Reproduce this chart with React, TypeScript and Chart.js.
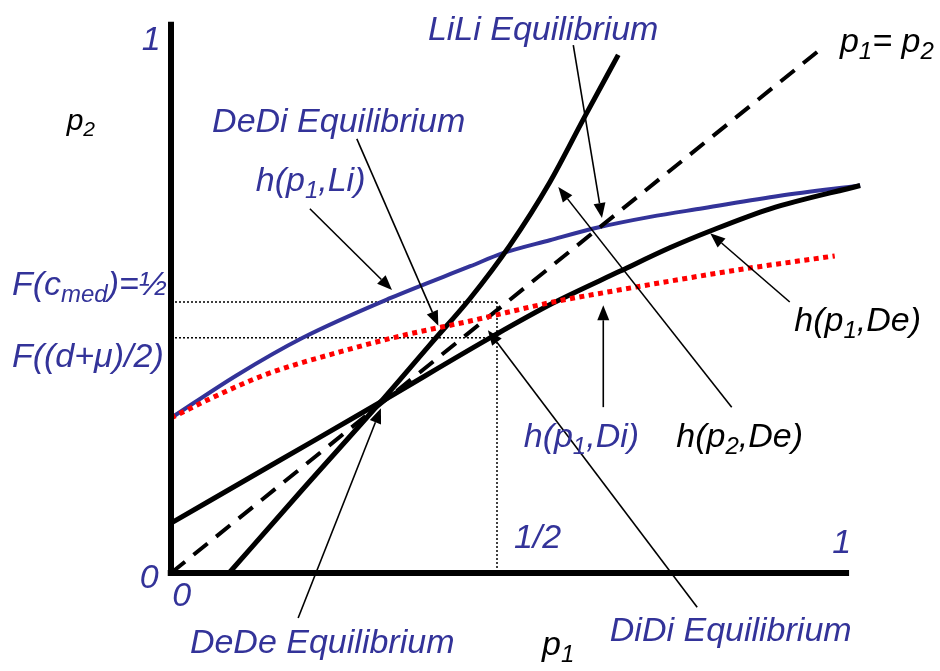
import React, { useEffect, useRef } from "react";
import { Chart, registerables } from "chart.js";

Chart.register(...registerables);

// ---------- data ----------
// axis extents
const xAxisEnd = 1.04;
const yAxisTop = 1.017;

// reference lines: F(c_med)=1/2 and F((d+mu)/2), p1 = 1/2
const halfLevel = 0.5;
const midLevel = 0.434;
const halfP1 = 0.5;

// p1 = p2 diagonal
const diagX = [0, 1.0];
const diagY = [0, 0.97];

// h(p1, Li)  (blue)
const hLiX = [0, 0.101, 0.202, 0.336, 0.459, 0.509, 0.581, 0.653, 0.735, 0.816, 0.934, 1.057];
const hLiY = [0.286, 0.365, 0.434, 0.507, 0.566, 0.59, 0.614, 0.637, 0.657, 0.673, 0.696, 0.715];

// h(p1, Di)  (red dotted)
const hDiX = [0, 0.075, 0.147, 0.259, 0.351, 0.459, 0.586, 0.663, 0.868, 1.018];
const hDiY = [0.286, 0.33, 0.367, 0.408, 0.437, 0.465, 0.5, 0.517, 0.559, 0.585];

// h(p1, De)  (black)
const hDe1X = [0, 0.167, 0.321, 0.494, 0.586, 0.689, 0.765, 0.827, 0.919, 1.057];
const hDe1Y = [0.092, 0.208, 0.315, 0.437, 0.498, 0.557, 0.6, 0.631, 0.672, 0.715];

// h(p2, De)  (black, steep)
const hDe2X = [0.089, 0.198, 0.321, 0.397, 0.459, 0.52, 0.581, 0.635, 0.686];
const hDe2Y = [0, 0.149, 0.315, 0.421, 0.507, 0.605, 0.721, 0.843, 0.956];

// annotation arrows: tail -> head
const arrowTailX = [0.213, 0.285, 0.617, 0.86, 0.949, 0.663, 0.807, 0.195];
const arrowTailY = [0.672, 0.801, 0.974, 0.306, 0.5, 0.306, -0.063, -0.083];
const arrowHeadX = [0.339, 0.41, 0.661, 0.594, 0.827, 0.663, 0.486, 0.322];
const arrowHeadY = [0.522, 0.456, 0.655, 0.712, 0.627, 0.494, 0.448, 0.304];

// text labels ( _{..} = subscript )
const labelTexts = [
  "1", "p_{2}", "LiLi Equilibrium", "DeDi Equilibrium", "h(p_{1},Li)",
  "F(c_{med})=½", "F((d+μ)/2)", "0", "0", "DeDe Equilibrium", "p_{1}",
  "DiDi Equilibrium", "1/2", "1", "h(p_{1},Di)", "h(p_{2},De)", "h(p_{1},De)", "p_{1}= p_{2}",
];
const labelX = [-0.045, -0.16, 0.394, 0.063, 0.13, -0.244, -0.244, -0.048, 0.002, 0.029, 0.569, 0.673, 0.526, 1.014, 0.541, 0.775, 0.956, 1.026];
const labelY = [0.965, 0.817, 0.983, 0.814, 0.705, 0.513, 0.38, -0.028, -0.061, -0.148, -0.151, -0.125, 0.046, 0.037, 0.232, 0.232, 0.446, 0.961];
const labelBlue = [true, false, true, true, true, true, true, true, true, true, false, true, true, true, true, false, false, false];
const labelSmall = [false, true, false, false, false, false, false, false, false, false, false, false, false, false, false, false, false, false];

// ---------- style ----------
const FONT = '"Liberation Sans", Arial, Helvetica, sans-serif';
const BLUE = "#333399";
const RED = "#ff0000";
const BLACK = "#000000";

const zip = (xs: number[], ys: number[]) => xs.map((x, i) => ({ x, y: ys[i] }));

function drawRich(ctx: CanvasRenderingContext2D, text: string, x: number, y: number, size: number, color: string) {
  const parts = text.split(/(_\{[^}]*\})/).filter((p) => p.length > 0);
  let cx = x;
  ctx.fillStyle = color;
  ctx.textBaseline = "alphabetic";
  ctx.textAlign = "left";
  for (const p of parts) {
    const sub = p.startsWith("_{");
    const t = sub ? p.slice(2, -1) : p;
    const fs = sub ? Math.round(size * 0.7) : size;
    ctx.font = `italic ${fs}px ${FONT}`;
    ctx.fillText(t, cx, sub ? y + size * 0.2 : y);
    cx += ctx.measureText(t).width;
  }
}

const annotationPlugin = {
  id: "annotations",
  afterDatasetsDraw(chart: any) {
    const ctx: CanvasRenderingContext2D = chart.ctx;
    const sx = chart.scales.x;
    const sy = chart.scales.y;
    ctx.save();
    // arrows
    ctx.strokeStyle = BLACK;
    ctx.fillStyle = BLACK;
    ctx.lineWidth = 1.6;
    for (let i = 0; i < arrowTailX.length; i++) {
      const x1 = sx.getPixelForValue(arrowTailX[i]);
      const y1 = sy.getPixelForValue(arrowTailY[i]);
      const x2 = sx.getPixelForValue(arrowHeadX[i]);
      const y2 = sy.getPixelForValue(arrowHeadY[i]);
      const ang = Math.atan2(y2 - y1, x2 - x1);
      const hl = 15;
      const hw = 6;
      const bx = x2 - hl * Math.cos(ang);
      const by = y2 - hl * Math.sin(ang);
      ctx.beginPath();
      ctx.moveTo(x1, y1);
      ctx.lineTo(bx, by);
      ctx.stroke();
      ctx.beginPath();
      ctx.moveTo(x2, y2);
      ctx.lineTo(bx + hw * Math.sin(ang), by - hw * Math.cos(ang));
      ctx.lineTo(bx - hw * Math.sin(ang), by + hw * Math.cos(ang));
      ctx.closePath();
      ctx.fill();
    }
    // labels
    for (let i = 0; i < labelTexts.length; i++) {
      drawRich(
        ctx,
        labelTexts[i],
        sx.getPixelForValue(labelX[i]),
        sy.getPixelForValue(labelY[i]),
        labelSmall[i] ? 30 : 34,
        labelBlue[i] ? BLUE : BLACK
      );
    }
    ctx.restore();
  },
};

export default function App() {
  const ref = useRef<HTMLCanvasElement | null>(null);

  useEffect(() => {
    if (!ref.current) return;
    const base = { pointRadius: 0, pointHoverRadius: 0, showLine: true, fill: false };
    const chart = new Chart(ref.current, {
      type: "scatter",
      data: {
        datasets: [
          {
            ...base,
            label: "y axis",
            data: [{ x: 0, y: 0 }, { x: 0, y: yAxisTop }],
            borderColor: BLACK,
            borderWidth: 6,
            order: 0,
          },
          {
            ...base,
            label: "x axis",
            data: [{ x: -0.005, y: 0 }, { x: xAxisEnd, y: 0 }],
            borderColor: BLACK,
            borderWidth: 6,
            order: 0,
          },
          {
            ...base,
            label: "h(p1,Di)",
            data: zip(hDiX, hDiY),
            borderColor: RED,
            borderWidth: 5,
            borderDash: [5, 4.5],
            cubicInterpolationMode: "monotone",
            order: 1,
          },
          {
            ...base,
            label: "h(p1,De)",
            data: zip(hDe1X, hDe1Y),
            borderColor: BLACK,
            borderWidth: 5,
            cubicInterpolationMode: "monotone",
            order: 2,
          },
          {
            ...base,
            label: "h(p2,De)",
            data: zip(hDe2X, hDe2Y),
            borderColor: BLACK,
            borderWidth: 5,
            cubicInterpolationMode: "monotone",
            order: 2,
          },
          {
            ...base,
            label: "p1=p2",
            data: zip(diagX, diagY),
            borderColor: BLACK,
            borderWidth: 4,
            borderDash: [18, 11],
            order: 3,
          },
          {
            ...base,
            label: "h(p1,Li)",
            data: zip(hLiX, hLiY),
            borderColor: BLUE,
            borderWidth: 4,
            cubicInterpolationMode: "monotone",
            order: 4,
          },
          {
            ...base,
            label: "F(c_med)",
            data: [{ x: 0, y: halfLevel }, { x: halfP1, y: halfLevel }],
            borderColor: BLACK,
            borderWidth: 1.5,
            borderDash: [2, 2],
            order: 5,
          },
          {
            ...base,
            label: "F((d+mu)/2)",
            data: [{ x: 0, y: midLevel }, { x: halfP1, y: midLevel }],
            borderColor: BLACK,
            borderWidth: 1.5,
            borderDash: [2, 2],
            order: 5,
          },
          {
            ...base,
            label: "p1 = 1/2",
            data: [{ x: halfP1, y: halfLevel }, { x: halfP1, y: 0 }],
            borderColor: BLACK,
            borderWidth: 1.5,
            borderDash: [2, 2],
            order: 5,
          },
        ],
      },
      options: {
        responsive: false,
        animation: false,
        devicePixelRatio: 1,
        layout: { padding: 0 },
        plugins: { legend: { display: false }, tooltip: { enabled: false } },
        events: [],
        scales: {
          x: { type: "linear", display: false, min: -171 / 652, max: 769 / 652 },
          y: { type: "linear", display: false, min: -98 / 542, max: 573 / 542 },
        },
      },
      plugins: [annotationPlugin],
    });
    return () => chart.destroy();
  }, []);

  return (
    <div style={{ position: "absolute", left: 0, top: 0, width: 940, height: 671, background: "#fff" }}>
      <canvas ref={ref} width={940} height={671} style={{ display: "block" }} />
    </div>
  );
}
